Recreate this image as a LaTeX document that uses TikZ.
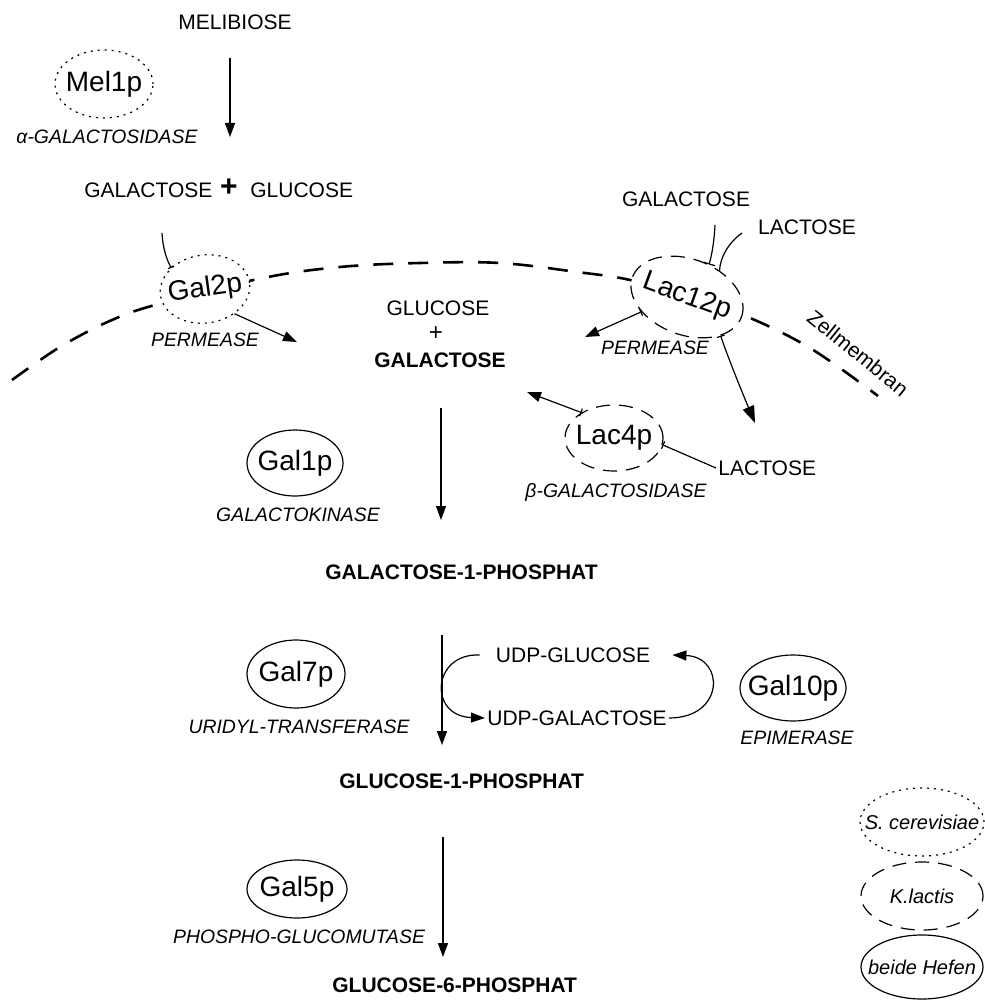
\documentclass[tikz,border=0pt]{standalone}
\usepackage{fontspec}
\setmainfont{Liberation Sans}
\usetikzlibrary{shapes.geometric,arrows.meta}
\tikzstyle{metab}=[inner sep=1pt,font=\fontsize{10.5}{12}\selectfont]
\tikzstyle{boldmetab}=[metab,font=\bfseries\fontsize{10.5}{12}\selectfont]
\tikzstyle{activity}=[inner sep=1pt,font=\itshape\fontsize{9.7}{11}\selectfont]
\tikzstyle{enzyme}=[ellipse,draw,fill=white,inner sep=0pt,line width=0.6pt,font=\fontsize{14}{16}\selectfont]
\tikzstyle{scer}=[enzyme,dash pattern=on 1pt off 2.5pt]
\tikzstyle{klac}=[enzyme,dash pattern=on 7pt off 4.5pt]
\tikzstyle{legendtext}=[font=\itshape\fontsize{10}{12}\selectfont]
\tikzstyle{contact}=[line width=0.6pt]
\tikzstyle{reaction}=[line width=0.6pt,-{Triangle[length=7pt,width=5pt]}]
\tikzstyle{barreaction}=[line width=0.6pt,{Bar[width=4pt]}-{Triangle[length=7pt,width=5pt]}]
\tikzstyle{membrane}=[line width=1.3pt,dash pattern=on 10pt off 7.5pt]
\newcommand{\enzname}[1]{\makebox[0pt]{#1}} % text does not widen the ellipse

\begin{document}
\begin{tikzpicture}[x=0.5pt,y=-0.5pt]
\useasboundingbox (0,0) rectangle (984,1000);

% cell membrane
\draw[membrane] plot[smooth,tension=0.6] coordinates {(12,380) (60,347) (112,320) (162,303) (263,278) (340,267) (420,263) (500,263) (577,272) (630,280) (687,297) (743,315) (810,348) (878,396)};
\node[metab,rotate=-39] (zm) at (858,353) {Zellmembran};

% melibiose
\node[metab] (melib) at (235,22) {MELIBIOSE};
\node[scer,minimum width=49pt,minimum height=34pt] (mel1p) at (104,84) {\enzname{Mel1p}};
\node[activity] (alphagal) at (107,137) {α-GALACTOSIDASE};
\coordinate (m1) at (230,58);
\coordinate (m2) at (230,137);
\draw[reaction] (m1) -- (m2);
\node[metab,anchor=west] (galtop) at (82,190) {GALACTOSE};
\node[metab,font=\bfseries\fontsize{15}{15}\selectfont] (plustop) at (229,188) {+};
\node[metab,anchor=west] (glctop) at (248,190) {GLUCOSE};

% uptake
\node[scer,rotate=8,minimum width=45pt,minimum height=34pt] (gal2p) at (205,289) {\enzname{Gal2p}};
\node[activity] (perm1) at (205,340) {PERMEASE};
\coordinate (gal2pin) at (162,233);
\coordinate (gal2pout) at (297,342);
\draw[contact,-{Bar[width=3pt]}] (gal2pin) .. controls (163,250) and (167,260) .. (gal2p.140);
\draw[reaction] (gal2p.-48) -- (gal2pout);

\node[metab] (galr) at (686,199) {GALACTOSE};
\node[metab] (lacr) at (807,227) {LACTOSE};
\node[klac,rotate=-20,minimum width=58pt,minimum height=38pt] (lac12p) at (687,297) {\enzname{Lac12p}};
\node[activity] (perm2) at (655,348) {PERMEASE};
\coordinate (galrin) at (715,225);
\coordinate (lacrin) at (742,233);
\coordinate (lac12pout) at (585,337);
\coordinate (lacin) at (755,423);
\draw[contact,-{Bar[width=6pt]}] (galrin) .. controls (714,245) and (711,258) .. (lac12p.76);
\draw[contact] (lacrin) .. controls (728,243) and (720,258) .. (lac12p.59);
\draw[barreaction] (lac12p.218) -- (lac12pout);
\draw[line width=0.6pt,{Bar[width=4pt]}-{Triangle[length=8.5pt,width=6pt]}] (lac12p.-29) .. controls (727,355) and (742,392) .. (lacin);

\node[metab] (glcmid) at (438,308) {GLUCOSE};
\node[metab,font=\fontsize{12}{12}\selectfont] (plusmid) at (436,334) {+};
\node[boldmetab] (galmid) at (440,360) {GALACTOSE};

% lactose cleavage
\node[klac,minimum width=49pt,minimum height=33pt] (lac4p) at (614,438) {\enzname{Lac4p}};
\node[activity] (betagal) at (616,492) {β-GALACTOSIDASE};
\node[metab,anchor=west] (lacbot) at (716,468) {LACTOSE};
\coordinate (lac4pout) at (527,392);
\draw[barreaction] (lac4p.142) -- (lac4pout);
\draw[contact,{Bar[width=4pt]}-] (lac4p.-8) -- (lacbot.west);

% Leloir pathway
\node[enzyme,minimum width=48pt,minimum height=33pt] (gal1p) at (295,463) {\enzname{Gal1p}};
\node[activity] (galkin) at (298,515) {GALACTOKINASE};
\coordinate (c1s) at (441,408);
\coordinate (c1e) at (441,520);
\draw[reaction] (c1s) -- (c1e);
\node[boldmetab,anchor=west] (gal1phos) at (323,572) {GALACTOSE-1-PHOSPHAT};

\node[enzyme,minimum width=49pt,minimum height=34pt] (gal7p) at (296,674) {\enzname{Gal7p}};
\node[activity] (urid) at (299,727) {URIDYL-TRANSFERASE};
\node[metab] (udpglc) at (573,655) {UDP-GLUCOSE};
\node[metab] (udpgal) at (577,718) {UDP-GALACTOSE};
\node[enzyme,minimum width=53pt,minimum height=33pt] (gal10p) at (793,688) {\enzname{Gal10p}};
\node[activity] (epim) at (797,738) {EPIMERASE};
\coordinate (c2s) at (442,635);
\coordinate (c2e) at (442,745);
\draw[reaction] (c2s) -- (c2e);
\draw[reaction] ([xshift=-7pt]udpglc.west) .. controls (432,653) and (428,716) .. (udpgal.west);
\draw[reaction] (udpgal.east) .. controls (725,718) and (725,657) .. ([xshift=10pt]udpglc.east);
\node[boldmetab,anchor=west] (glc1phos) at (337,781) {GLUCOSE-1-PHOSPHAT};

\node[enzyme,minimum width=50pt,minimum height=29pt] (gal5p) at (297,889) {\enzname{Gal5p}};
\node[activity] (pgm) at (299,937) {PHOSPHO-GLUCOMUTASE};
\coordinate (c3s) at (443,837);
\coordinate (c3e) at (443,957);
\draw[reaction] (c3s) -- (c3e);
\node[boldmetab,anchor=west] (glc6phos) at (330,985) {GLUCOSE-6-PHOSPHAT};

% legend
\node[scer,legendtext,minimum width=62pt,minimum height=34pt] (legscer) at (922,822) {\enzname{S. cerevisiae}};
\node[klac,legendtext,minimum width=61pt,minimum height=34pt] (legklac) at (922,896) {\enzname{K.lactis}};
\node[enzyme,legendtext,minimum width=61pt,minimum height=32pt] (legboth) at (922,967) {\enzname{beide Hefen}};
\end{tikzpicture}
\end{document}
